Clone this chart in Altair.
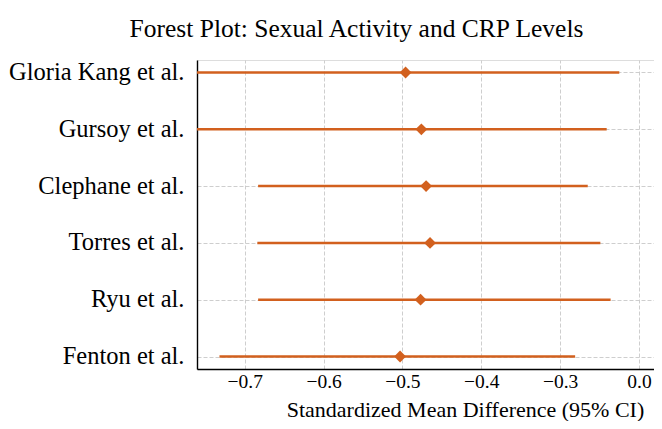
import altair as alt
import pandas as pd

studies = ["Gloria Kang et al.", "Gursoy et al.", "Clephane et al.",
           "Torres et al.", "Ryu et al.", "Fenton et al."]
smd = [-0.496, -0.476, -0.470, -0.465, -0.477, -0.503]
ci_lower = [-0.77, -0.78, -0.683, -0.684, -0.683, -0.732]
ci_upper = [-0.225, -0.241, -0.265, -0.249, -0.236, -0.281]

tick_values = [-0.7, -0.6, -0.5, -0.4, -0.3, -0.2]
tick_labels = ["\u22120.7", "\u22120.6", "\u22120.5", "\u22120.4", "\u22120.3", "0.0"]

df = pd.DataFrame({"study": studies, "smd": smd, "lo": ci_lower, "hi": ci_upper})

FONT = "Liberation Serif"
ORANGE = "#D2601E"

label_expr = "[" + ",".join("'%s'" % s for s in tick_labels) + "][indexof([" + \
    ",".join(str(v) for v in tick_values) + "], datum.value)]"

xscale = alt.Scale(domain=[-0.7605, -0.181], nice=False, zero=False)
yscale = alt.Scale(type="point", domain=studies, padding=0.22)

xaxis = alt.Axis(values=tick_values, labelExpr=label_expr, title="Standardized Mean Difference (95% CI)",
                 grid=True, gridDash=[4, 2], gridColor="#c8c8c8", gridWidth=0.9,
                 ticks=False, domain=True, domainColor="black", domainWidth=1.4,
                 labelFont=FONT, labelFontSize=19.5, labelColor="black", labelPadding=3,
                 titleFont=FONT, titleFontSize=22, titleFontWeight="normal", titleColor="black",
                 titleX=268, titleY=47, titleAlign="center", titleBaseline="alphabetic")
yaxis = alt.Axis(title=None, grid=True, gridDash=[4, 2], gridColor="#c8c8c8", gridWidth=0.9,
                 ticks=False, domain=True, domainColor="black", domainWidth=1.4,
                 labelFont=FONT, labelFontSize=24.5, labelColor="black", labelPadding=13,
                 labelLimit=400)

base = alt.Chart(df)
rules = base.mark_rule(color=ORANGE, strokeWidth=2.5, clip=True).encode(
    x=alt.X("lo:Q", scale=xscale, axis=xaxis),
    x2="hi:Q",
    y=alt.Y("study:N", scale=yscale, axis=yaxis, sort=studies),
)
points = base.mark_point(shape="diamond", filled=True, color=ORANGE, size=140, opacity=1).encode(
    x=alt.X("smd:Q", scale=xscale),
    y=alt.Y("study:N", scale=yscale, sort=studies),
)

chart = (rules + points).properties(
    width=457, height=309,
    title=alt.TitleParams("Forest Plot: Sexual Activity and CRP Levels", font=FONT, fontSize=25.5,
                          fontWeight="normal", color="black", anchor="middle", frame="group",
                          dx=-69, offset=17),
    autosize=alt.AutoSizeParams(type="none"),
    padding={"left": 189, "top": 52, "right": 0, "bottom": 52},
).configure_view(stroke=None).configure(background="white")

chart.save("out.html", embed_options={"renderer": "svg", "actions": False})
